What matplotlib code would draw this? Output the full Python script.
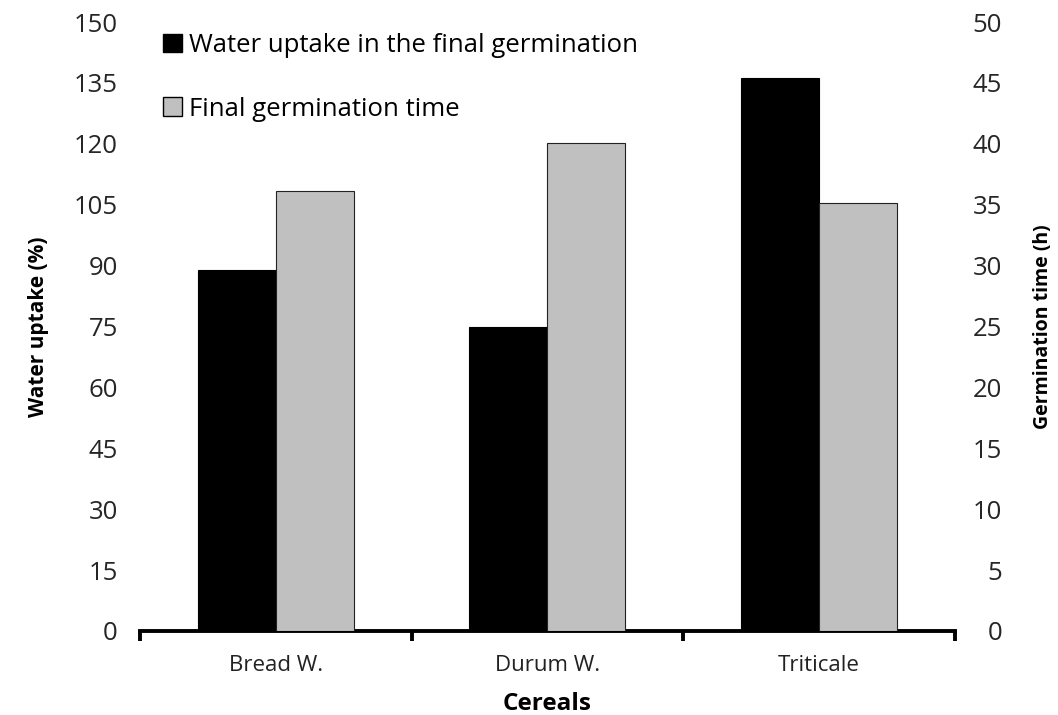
import numpy as np
import matplotlib.pyplot as plt
from matplotlib.patches import Patch

# données
cereals = ["Bread W.", "Durum W.", "Triticale"]
water_uptake = [88.9, 74.9, 136.2]      # %
germination_time = [36.1, 40.1, 35.1]   # h

plt.rcParams["font.family"] = ["Open Sans", "DejaVu Sans"]

fig = plt.figure(figsize=(10.58, 7.15), dpi=100)
ax = fig.add_axes([0.1323, 0.1175, 0.9026 - 0.1323, 0.9692 - 0.1175])
ax2 = ax.twinx()

x = np.arange(len(cereals))
w = 0.287
ax.bar(x - w / 2, water_uptake, w, color="black", edgecolor="black", linewidth=0.8)
ax2.bar(x + w / 2, germination_time, w, color="#c0c0c0", edgecolor="#222222", linewidth=0.8)

ax.set_xlim(-0.5, 2.5)
ax.set_ylim(0, 150)
ax2.set_ylim(0, 50)
ax.set_yticks(np.arange(0, 151, 15))
ax2.set_yticks(np.arange(0, 51, 5))

for a in (ax, ax2):
    for s in ["top", "left", "right", "bottom"]:
        a.spines[s].set_visible(False)
ax.spines["bottom"].set_visible(True)
ax.spines["bottom"].set_linewidth(2.8)
ax.spines["bottom"].set_capstyle("projecting")

ax.tick_params(axis="y", length=0, pad=16, labelsize=18.5, labelcolor="#262626")
ax2.tick_params(axis="y", length=0, pad=34, labelsize=18.5, labelcolor="#262626")
for lab in ax2.get_yticklabels():
    lab.set_horizontalalignment("right")

ax.set_xticks(x)
ax.set_xticklabels(cereals, fontsize=16, color="#222222")
ax.tick_params(axis="x", which="major", length=0, pad=17)
ax.set_xticks([-0.5, 0.5, 1.5, 2.5], minor=True)
ax.tick_params(axis="x", which="minor", length=7, width=2.8, direction="out")

ax.set_xlabel("Cereals", fontsize=17.5, fontweight="bold", labelpad=12)
ax.set_ylabel("Water uptake (%)", fontsize=15, fontweight="bold", labelpad=18)
ax2.set_ylabel("Germination time (h)", fontsize=14, fontweight="bold", labelpad=22)

handles = [
    Patch(facecolor="black", edgecolor="black", label="Water uptake in the final germination"),
    Patch(facecolor="#c0c0c0", edgecolor="black", label="Final germination time"),
]
ax.legend(handles=handles, loc="upper left", bbox_to_anchor=(0.0, 1.02), frameon=False,
          fontsize=18.5, handlelength=0.75, handleheight=0.75, handletextpad=0.25,
          labelspacing=1.5)

plt.savefig("out.png", dpi=100)
